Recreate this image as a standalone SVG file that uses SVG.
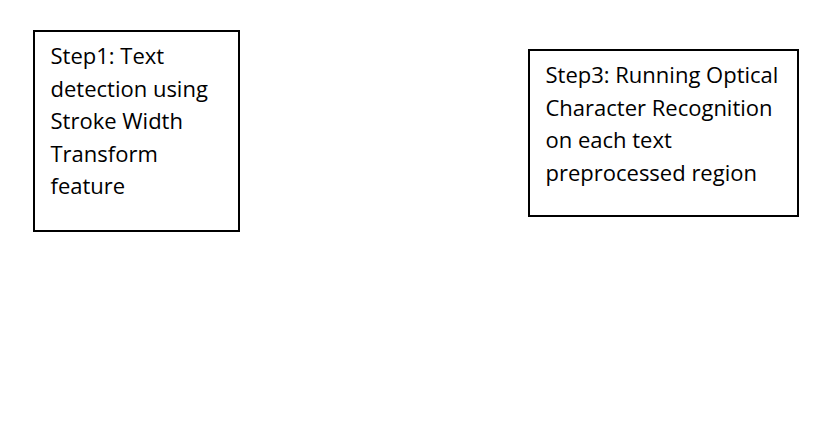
<svg xmlns="http://www.w3.org/2000/svg" width="839" height="447" viewBox="0 0 839 447">
<style>
.box{fill:#fff;stroke:#000;stroke-width:2}
.t{font-family:"Open Sans","Liberation Sans",sans-serif;font-size:22px;fill:#000}
</style>
<rect width="839" height="447" fill="#fff"/>
<g id="step1">
<rect class="box" x="34" y="31" width="205" height="200"/>
<text class="t"><tspan x="50.5" y="64">Step1: Text</tspan><tspan x="50.5" y="96.5">detection using</tspan><tspan x="50.5" y="129">Stroke Width</tspan><tspan x="50.5" y="161.5">Transform</tspan><tspan x="50.5" y="194">feature</tspan></text>
</g>
<g id="step3">
<rect class="box" x="529" y="50" width="269" height="166"/>
<text class="t"><tspan x="545.5" y="83">Step3: Running Optical</tspan><tspan x="545.5" y="115.5">Character Recognition</tspan><tspan x="545.5" y="148">on each text</tspan><tspan x="545.5" y="180.5">preprocessed region</tspan></text>
</g>
<g id="connectors"/>
</svg>
